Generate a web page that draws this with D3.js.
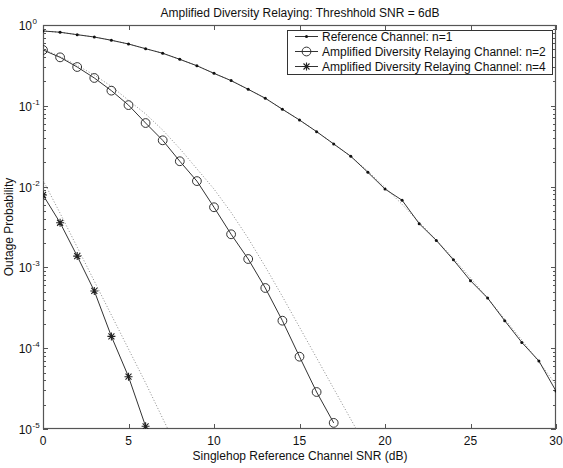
<!DOCTYPE html>
<html>
<head>
<meta charset="utf-8">
<script src="https://cdn.jsdelivr.net/npm/d3@7"></script>
<style>
  html, body { margin: 0; padding: 0; background: #fff; }
  svg { display: block; font-family: "Liberation Sans", Arial, sans-serif; }
</style>
</head>
<body>
<svg id="chart" width="563" height="468"></svg>
<script>
// Outage probability vs. single-hop reference SNR (dB)
const snrRef = d3.range(0, 31);
const refChannel = [0.843, 0.813, 0.759, 0.710, 0.647, 0.582, 0.509, 0.447, 0.376, 0.313,
  0.252, 0.205, 0.160, 0.124, 0.0906, 0.0667, 0.0479, 0.0337, 0.0237, 0.0150,
  0.00933, 0.00678, 0.00348, 0.00216, 0.00124, 0.000684, 0.000418, 0.000219, 0.000118, 0.0000695,
  0.0000295];
const refBound = [0.843, 0.813, 0.759, 0.710, 0.647, 0.582, 0.509, 0.447, 0.376, 0.313,
  0.252, 0.205, 0.160, 0.124, 0.0906, 0.0667, 0.0479, 0.0337, 0.0237, 0.0155,
  0.00977, 0.00603, 0.00363, 0.00219, 0.00129, 0.000741, 0.000417, 0.000229, 0.000126, 0.0000676,
  0.0000355];

const snrN2 = d3.range(0, 18);
const relayN2 = [0.491, 0.398, 0.302, 0.221, 0.154, 0.102, 0.0612, 0.0374, 0.0206, 0.0117,
  0.00555, 0.00257, 0.00127, 0.000556, 0.000219, 0.0000785, 0.0000287, 0.0000119];
const snrN2Bound = d3.range(0, 20);
const boundN2 = [0.501, 0.407, 0.316, 0.240, 0.174, 0.117, 0.0794, 0.0501, 0.0295, 0.0166,
  0.00933, 0.00479, 0.00229, 0.00102, 0.000437, 0.000182, 0.0000759, 0.0000316, 0.0000132, 0.0000055];

const snrN4 = d3.range(0, 7);
const relayN4 = [0.00787, 0.00357, 0.00138, 0.000511, 0.000140, 0.0000444, 0.0000108];
const snrN4Bound = d3.range(0, 9);
const boundN4 = [0.0120, 0.00468, 0.00178, 0.000676, 0.000257, 0.0000977, 0.0000372, 0.0000135, 0.0000050];

const xTicks = [0, 5, 10, 15, 20, 25, 30];
const yExponents = [0, -1, -2, -3, -4, -5];
const legendLabels = ["Reference Channel: n=1",
  "Amplified Diversity Relaying Channel: n=2",
  "Amplified Diversity Relaying Channel: n=4"];

const svg = d3.select("#chart");
const L = 43, R = 556, T = 25, B = 429;
const x = d3.scaleLinear().domain([0, 30]).range([L, R]);
const y = d3.scaleLog().domain([1e-5, 1]).range([B, T]);

const lineCol = "#333", dotCol = "#8a8a8a", axisCol = "#555";

svg.append("defs").append("clipPath").attr("id", "plotClip")
  .append("rect").attr("x", L).attr("y", T).attr("width", R - L).attr("height", B - T);

// Title and axis labels
svg.append("text").attr("x", 300).attr("y", 17).attr("text-anchor", "middle")
  .attr("font-size", 12).attr("fill", "#111")
  .text("Amplified Diversity Relaying: Threshhold SNR = 6dB");
svg.append("text").attr("x", 300).attr("y", 460).attr("text-anchor", "middle")
  .attr("font-size", 12).attr("fill", "#111")
  .text("Singlehop Reference Channel SNR (dB)");
svg.append("text").attr("transform", "translate(13,227) rotate(-90)")
  .attr("text-anchor", "middle").attr("font-size", 12).attr("fill", "#111")
  .text("Outage Probability");

// Axes with inward ticks on all four sides
const tickLen = 5, minorLen = 3;
const gx = svg.append("g");
xTicks.forEach(t => {
  const px = Math.round(x(t)) + 0.5;
  gx.append("line").attr("x1", px).attr("x2", px).attr("y1", B).attr("y2", B - tickLen).attr("stroke", axisCol);
  gx.append("line").attr("x1", px).attr("x2", px).attr("y1", T).attr("y2", T + tickLen).attr("stroke", axisCol);
  gx.append("text").attr("x", x(t)).attr("y", 445).attr("text-anchor", "middle")
    .attr("font-size", 12).attr("fill", "#111").text(t);
});

const gy = svg.append("g");
yExponents.forEach(e => {
  const py = Math.round(y(Math.pow(10, e))) + 0.5;
  gy.append("line").attr("x1", L).attr("x2", L + tickLen).attr("y1", py).attr("y2", py).attr("stroke", axisCol);
  gy.append("line").attr("x1", R).attr("x2", R - tickLen).attr("y1", py).attr("y2", py).attr("stroke", axisCol);
  const lbl = gy.append("text").attr("x", 32).attr("y", py + 4).attr("text-anchor", "end")
    .attr("font-size", 12).attr("fill", "#111");
  lbl.text("10");
  gy.append("text").attr("x", 32.5).attr("y", py - 2).attr("font-size", 8).attr("fill", "#111")
    .text(e);
  if (e > -5) {
    for (let m = 2; m <= 9; m++) {
      const v = m * Math.pow(10, e - 1);
      const my = Math.round(y(v)) + 0.5;
      gy.append("line").attr("x1", L).attr("x2", L + minorLen).attr("y1", my).attr("y2", my).attr("stroke", axisCol);
      gy.append("line").attr("x1", R).attr("x2", R - minorLen).attr("y1", my).attr("y2", my).attr("stroke", axisCol);
    }
  }
});

// Plot box
svg.append("rect").attr("x", L + 0.5).attr("y", T + 0.5).attr("width", R - L - 1).attr("height", B - T - 1)
  .attr("fill", "none").attr("stroke", axisCol).attr("stroke-width", 1.2);

const plot = svg.append("g").attr("clip-path", "url(#plotClip)");
const line = d3.line().x(d => x(d[0])).y(d => y(d[1]));
const pairs = (xs, ys) => xs.map((v, i) => [v, ys[i]]);

// Bound curves (dotted)
[[snrRef, refBound], [snrN2Bound, boundN2], [snrN4Bound, boundN4]].forEach(([xs, ys]) => {
  plot.append("path").attr("d", line(pairs(xs, ys))).attr("fill", "none")
    .attr("stroke", dotCol).attr("stroke-width", 1).attr("stroke-dasharray", "1,2");
});

// Simulated curves (solid)
[[snrRef, refChannel], [snrN2, relayN2], [snrN4, relayN4]].forEach(([xs, ys]) => {
  plot.append("path").attr("d", line(pairs(xs, ys))).attr("fill", "none")
    .attr("stroke", lineCol).attr("stroke-width", 1);
});

function dotMarker(g, cx, cy) {
  g.append("circle").attr("cx", cx).attr("cy", cy).attr("r", 1.5).attr("fill", "#111");
}
function circleMarker(g, cx, cy) {
  g.append("circle").attr("cx", cx).attr("cy", cy).attr("r", 4.4)
    .attr("fill", "none").attr("stroke", lineCol).attr("stroke-width", 1);
}
function starMarker(g, cx, cy) {
  const s = 4, d = 3;
  const p = `M${cx - s},${cy}L${cx + s},${cy}M${cx},${cy - s}L${cx},${cy + s}` +
    `M${cx - d},${cy - d}L${cx + d},${cy + d}M${cx - d},${cy + d}L${cx + d},${cy - d}`;
  g.append("path").attr("d", p).attr("stroke", "#222").attr("stroke-width", 1.1).attr("fill", "none");
}

snrRef.forEach((s, i) => dotMarker(plot, x(s), y(refChannel[i])));
snrN2.forEach((s, i) => circleMarker(plot, x(s), y(relayN2[i])));
snrN4.forEach((s, i) => starMarker(plot, x(s), y(relayN4[i])));

// Legend
const lg = svg.append("g");
lg.append("rect").attr("x", 287.5).attr("y", 30.5).attr("width", 265).attr("height", 44)
  .attr("fill", "#fff").attr("stroke", "#333").attr("stroke-width", 1);
const markers = [dotMarker, circleMarker, starMarker];
legendLabels.forEach((lab, i) => {
  const ly = 36.5 + i * 15;
  lg.append("line").attr("x1", 295).attr("x2", 318).attr("y1", ly).attr("y2", ly)
    .attr("stroke", lineCol).attr("stroke-width", 1);
  markers[i](lg, 306.5, ly);
  lg.append("text").attr("x", 322).attr("y", ly + 4.5).attr("font-size", 12).attr("fill", "#111").text(lab);
});
</script>
</body>
</html>
